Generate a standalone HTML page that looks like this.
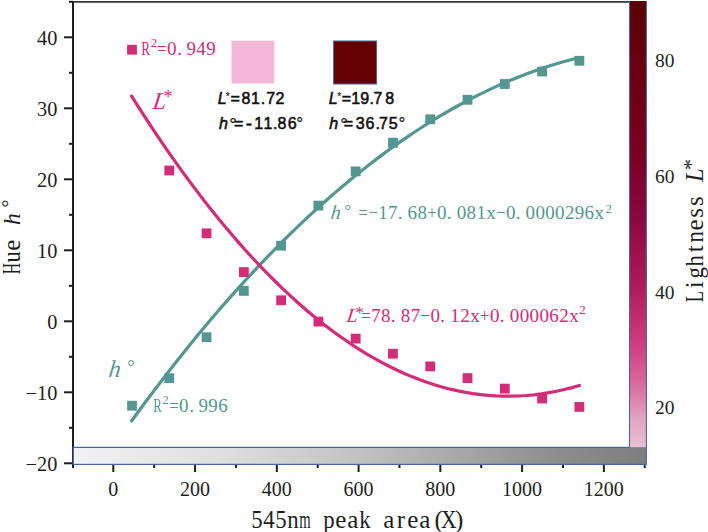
<!DOCTYPE html>
<html><head><meta charset="utf-8"><style>
html,body{margin:0;padding:0;background:#fff;}
body{width:708px;height:532px;overflow:hidden;position:relative;}
svg{position:absolute;left:0;top:0;display:block;}
</style></head><body>
<svg width="708" height="532" viewBox="0 0 708 532">
<defs>
<linearGradient id="gb" gradientUnits="userSpaceOnUse" x1="73.3" y1="0" x2="646.3" y2="0"><stop offset="0.0000" stop-color="#f2f2f4"/><stop offset="0.2560" stop-color="#dfdfdf"/><stop offset="0.5003" stop-color="#c2c2c2"/><stop offset="0.7098" stop-color="#a2a2a2"/><stop offset="0.8494" stop-color="#8c8c8c"/><stop offset="1.0000" stop-color="#7e7e7e"/></linearGradient>
<linearGradient id="cb" gradientUnits="userSpaceOnUse" x1="0" y1="1" x2="0" y2="447.4"><stop offset="0.0000" stop-color="#5a0002"/><stop offset="0.1322" stop-color="#66000e"/><stop offset="0.3338" stop-color="#780020"/><stop offset="0.4906" stop-color="#8c0840"/><stop offset="0.6474" stop-color="#b01c5c"/><stop offset="0.7594" stop-color="#cf3a7c"/><stop offset="0.8490" stop-color="#d9649a"/><stop offset="0.9386" stop-color="#e2a6c2"/><stop offset="1.0000" stop-color="#e9c0d3"/></linearGradient>
</defs>
<g stroke="#1e1e1e" stroke-width="2" fill="none">
<path d="M72,1.9 H630" stroke="#383838" stroke-width="1.7"/>
<path d="M73,1 V468"/>
<path d="M64,463.30 H73"/>
<path d="M64,392.30 H73"/>
<path d="M64,321.30 H73"/>
<path d="M64,250.30 H73"/>
<path d="M64,179.30 H73"/>
<path d="M64,108.30 H73"/>
<path d="M64,37.30 H73"/>
<path d="M69,427.80 H73"/>
<path d="M69,356.80 H73"/>
<path d="M69,285.80 H73"/>
<path d="M69,214.80 H73"/>
<path d="M69,143.80 H73"/>
<path d="M69,72.80 H73"/>
<path d="M69,1.80 H73"/>
<path d="M113.30,464 V472"/>
<path d="M195.06,464 V472"/>
<path d="M276.82,464 V472"/>
<path d="M358.58,464 V472"/>
<path d="M440.34,464 V472"/>
<path d="M522.10,464 V472"/>
<path d="M603.86,464 V472"/>
<path d="M154.18,464 V468"/>
<path d="M235.94,464 V468"/>
<path d="M317.70,464 V468"/>
<path d="M399.46,464 V468"/>
<path d="M481.22,464 V468"/>
<path d="M562.98,464 V468"/>
<path d="M644.74,464 V468"/>
</g>
<rect x="73.3" y="447.4" width="573" height="17" fill="url(#gb)" stroke="#4a64a4" stroke-width="1.2"/>
<rect x="629.5" y="1" width="16.9" height="446.4" fill="url(#cb)"/>
<path d="M629.5,1 V447.4 M646.4,1 V447.4" stroke="#4a64a4" stroke-width="1.1" fill="none"/>
<rect x="231.5" y="40.7" width="42.8" height="42.8" fill="#f5b7d7"/>
<rect x="333.6" y="41" width="43" height="43" fill="#640000" stroke="#4a64a4" stroke-width="1"/>
<path d="M131.60,420.94 L139.19,410.54 L146.78,400.28 L154.37,390.17 L161.96,380.20 L169.55,370.38 L177.14,360.71 L184.73,351.18 L192.32,341.80 L199.91,332.57 L207.50,323.48 L215.09,314.54 L222.68,305.75 L230.27,297.10 L237.86,288.60 L245.45,280.25 L253.04,272.04 L260.63,263.97 L268.22,256.06 L275.81,248.29 L283.40,240.67 L290.99,233.19 L298.58,225.86 L306.17,218.68 L313.76,211.64 L321.35,204.75 L328.94,198.00 L336.53,191.40 L344.12,184.95 L351.71,178.65 L359.29,172.49 L366.88,166.47 L374.47,160.61 L382.06,154.89 L389.65,149.31 L397.24,143.89 L404.83,138.61 L412.42,133.47 L420.01,128.48 L427.60,123.64 L435.19,118.95 L442.78,114.40 L450.37,110.00 L457.96,105.74 L465.55,101.63 L473.14,97.67 L480.73,93.85 L488.32,90.18 L495.91,86.66 L503.50,83.28 L511.09,80.05 L518.68,76.96 L526.27,74.02 L533.86,71.23 L541.45,68.59 L549.04,66.09 L556.63,63.73 L564.22,61.53 L571.81,59.47 L579.40,57.55" stroke="#549791" stroke-width="3.2" fill="none" stroke-linecap="round"/>
<path d="M131.60,96.11 L139.19,108.09 L146.78,119.83 L154.37,131.32 L161.96,142.57 L169.55,153.57 L177.14,164.33 L184.73,174.85 L192.32,185.12 L199.91,195.15 L207.50,204.93 L215.09,214.47 L222.68,223.77 L230.27,232.82 L237.86,241.63 L245.45,250.19 L253.04,258.51 L260.63,266.58 L268.22,274.42 L275.81,282.00 L283.40,289.35 L290.99,296.45 L298.58,303.30 L306.17,309.92 L313.76,316.28 L321.35,322.41 L328.94,328.29 L336.53,333.92 L344.12,339.31 L351.71,344.46 L359.29,349.37 L366.88,354.03 L374.47,358.44 L382.06,362.61 L389.65,366.54 L397.24,370.23 L404.83,373.67 L412.42,376.86 L420.01,379.81 L427.60,382.52 L435.19,384.98 L442.78,387.20 L450.37,389.18 L457.96,390.91 L465.55,392.40 L473.14,393.64 L480.73,394.64 L488.32,395.40 L495.91,395.91 L503.50,396.18 L511.09,396.20 L518.68,395.98 L526.27,395.52 L533.86,394.81 L541.45,393.86 L549.04,392.66 L556.63,391.22 L564.22,389.54 L571.81,387.61 L579.40,385.44" stroke="#d42c78" stroke-width="3.2" fill="none" stroke-linecap="round"/>
<rect x="127.10" y="400.80" width="9.8" height="9.8" fill="#549791"/>
<rect x="164.38" y="373.30" width="9.8" height="9.8" fill="#549791"/>
<rect x="201.66" y="332.30" width="9.8" height="9.8" fill="#549791"/>
<rect x="238.94" y="286.00" width="9.8" height="9.8" fill="#549791"/>
<rect x="276.22" y="240.80" width="9.8" height="9.8" fill="#549791"/>
<rect x="313.50" y="200.70" width="9.8" height="9.8" fill="#549791"/>
<rect x="350.78" y="166.50" width="9.8" height="9.8" fill="#549791"/>
<rect x="388.06" y="137.80" width="9.8" height="9.8" fill="#549791"/>
<rect x="425.34" y="114.40" width="9.8" height="9.8" fill="#549791"/>
<rect x="462.62" y="94.90" width="9.8" height="9.8" fill="#549791"/>
<rect x="499.90" y="79.10" width="9.8" height="9.8" fill="#549791"/>
<rect x="537.18" y="66.60" width="9.8" height="9.8" fill="#549791"/>
<rect x="574.46" y="55.90" width="9.8" height="9.8" fill="#549791"/>
<rect x="127.10" y="44.80" width="9.8" height="9.8" fill="#d42c78"/>
<rect x="164.38" y="165.60" width="9.8" height="9.8" fill="#d42c78"/>
<rect x="201.66" y="228.40" width="9.8" height="9.8" fill="#d42c78"/>
<rect x="238.94" y="267.20" width="9.8" height="9.8" fill="#d42c78"/>
<rect x="276.22" y="295.40" width="9.8" height="9.8" fill="#d42c78"/>
<rect x="313.50" y="316.70" width="9.8" height="9.8" fill="#d42c78"/>
<rect x="350.78" y="333.70" width="9.8" height="9.8" fill="#d42c78"/>
<rect x="388.06" y="348.80" width="9.8" height="9.8" fill="#d42c78"/>
<rect x="425.34" y="361.50" width="9.8" height="9.8" fill="#d42c78"/>
<rect x="462.62" y="373.20" width="9.8" height="9.8" fill="#d42c78"/>
<rect x="499.90" y="383.70" width="9.8" height="9.8" fill="#d42c78"/>
<rect x="537.18" y="393.60" width="9.8" height="9.8" fill="#d42c78"/>
<rect x="574.46" y="402.00" width="9.8" height="9.8" fill="#d42c78"/>
<text x="57.3" y="471.20" text-anchor="end" font-family="Liberation Serif" fill="#1e1e1e" font-size="20.3">−20</text>
<text x="57.3" y="400.20" text-anchor="end" font-family="Liberation Serif" fill="#1e1e1e" font-size="20.3">−10</text>
<text x="57.3" y="329.20" text-anchor="end" font-family="Liberation Serif" fill="#1e1e1e" font-size="20.3">0</text>
<text x="57.3" y="258.20" text-anchor="end" font-family="Liberation Serif" fill="#1e1e1e" font-size="20.3">10</text>
<text x="57.3" y="187.20" text-anchor="end" font-family="Liberation Serif" fill="#1e1e1e" font-size="20.3">20</text>
<text x="57.3" y="116.20" text-anchor="end" font-family="Liberation Serif" fill="#1e1e1e" font-size="20.3">30</text>
<text x="57.3" y="45.20" text-anchor="end" font-family="Liberation Serif" fill="#1e1e1e" font-size="20.3">40</text>
<text x="113.30" y="495.7" text-anchor="middle" font-family="Liberation Serif" fill="#1e1e1e" font-size="20">0</text>
<text x="195.06" y="495.7" text-anchor="middle" font-family="Liberation Serif" fill="#1e1e1e" font-size="20">200</text>
<text x="276.82" y="495.7" text-anchor="middle" font-family="Liberation Serif" fill="#1e1e1e" font-size="20">400</text>
<text x="358.58" y="495.7" text-anchor="middle" font-family="Liberation Serif" fill="#1e1e1e" font-size="20">600</text>
<text x="440.34" y="495.7" text-anchor="middle" font-family="Liberation Serif" fill="#1e1e1e" font-size="20">800</text>
<text x="522.10" y="495.7" text-anchor="middle" font-family="Liberation Serif" fill="#1e1e1e" font-size="20">1000</text>
<text x="603.86" y="495.7" text-anchor="middle" font-family="Liberation Serif" fill="#1e1e1e" font-size="20">1200</text>
<text x="655" y="67.10" font-family="Liberation Serif" fill="#1e1e1e" font-size="19.5">80</text>
<text x="655" y="183.10" font-family="Liberation Serif" fill="#1e1e1e" font-size="19.5">60</text>
<text x="655" y="299.10" font-family="Liberation Serif" fill="#1e1e1e" font-size="19.5">40</text>
<text x="655" y="413.60" font-family="Liberation Serif" fill="#1e1e1e" font-size="19.5">20</text>
<text x="340.90 352.90 388.90 400.90 412.90 424.90 438.70 459.10" y="527.6" font-size="25" fill="#1e1e1e" text-anchor="middle" font-family="Liberation Serif" >eaarea()</text>
<text x="251.20" y="527.6" font-size="25" fill="#1e1e1e" font-family="Liberation Serif" textLength="11.40" lengthAdjust="spacingAndGlyphs" >5</text>
<text x="263.20" y="527.6" font-size="25" fill="#1e1e1e" font-family="Liberation Serif" textLength="11.40" lengthAdjust="spacingAndGlyphs" >4</text>
<text x="275.20" y="527.6" font-size="25" fill="#1e1e1e" font-family="Liberation Serif" textLength="11.40" lengthAdjust="spacingAndGlyphs" >5</text>
<text x="287.20" y="527.6" font-size="25" fill="#1e1e1e" font-family="Liberation Serif" textLength="11.40" lengthAdjust="spacingAndGlyphs" >n</text>
<text x="299.20" y="527.6" font-size="25" fill="#1e1e1e" font-family="Liberation Serif" textLength="11.40" lengthAdjust="spacingAndGlyphs" >m</text>
<text x="323.20" y="527.6" font-size="25" fill="#1e1e1e" font-family="Liberation Serif" textLength="11.40" lengthAdjust="spacingAndGlyphs" >p</text>
<text x="359.20" y="527.6" font-size="25" fill="#1e1e1e" font-family="Liberation Serif" textLength="11.40" lengthAdjust="spacingAndGlyphs" >k</text>
<text x="441.10" y="527.6" font-size="25" fill="#1e1e1e" font-family="Liberation Serif" textLength="15.60" lengthAdjust="spacingAndGlyphs" >X</text>
<g transform="translate(19.8,0) rotate(-90)">
<text x="-245.10" y="0" font-size="25" fill="#1e1e1e" text-anchor="middle" font-family="Liberation Serif" >e</text>
<text x="-274.31" y="0" font-size="25" fill="#1e1e1e" font-family="Liberation Serif" textLength="11.21" lengthAdjust="spacingAndGlyphs" >H</text>
<text x="-262.51" y="0" font-size="25" fill="#1e1e1e" font-family="Liberation Serif" textLength="11.21" lengthAdjust="spacingAndGlyphs" >u</text>
<text x="-225" y="0" font-family="Liberation Serif" font-style="italic" font-size="23.5" fill="#1e1e1e">h</text>
<text x="-207.6" y="-3.5" font-family="Liberation Serif" font-size="20" fill="#1e1e1e">°</text>
</g>
<g transform="translate(703,0) rotate(-90)">
<text x="-284.68 -248.83 -224.93 -212.98 -201.03" y="0" font-size="25" fill="#1e1e1e" text-anchor="middle" font-family="Liberation Serif" >itess</text>
<text x="-302.30" y="0" font-size="25" fill="#1e1e1e" font-family="Liberation Serif" textLength="11.35" lengthAdjust="spacingAndGlyphs" >L</text>
<text x="-278.40" y="0" font-size="25" fill="#1e1e1e" font-family="Liberation Serif" textLength="11.35" lengthAdjust="spacingAndGlyphs" >g</text>
<text x="-266.45" y="0" font-size="25" fill="#1e1e1e" font-family="Liberation Serif" textLength="11.35" lengthAdjust="spacingAndGlyphs" >h</text>
<text x="-242.55" y="0" font-size="25" fill="#1e1e1e" font-family="Liberation Serif" textLength="11.35" lengthAdjust="spacingAndGlyphs" >n</text>
<text x="-182" y="0" font-family="Liberation Serif" font-style="italic" font-size="24.5" fill="#1e1e1e">L</text>
<text x="-170" y="-5.5" font-family="Liberation Serif" font-size="22" fill="#1e1e1e">*</text>
</g>
<text x="141.2" y="55.4" font-family="Liberation Serif" font-size="19" fill="#d42c78" textLength="8.8" lengthAdjust="spacingAndGlyphs">R</text>
<text x="150.8" y="47" font-family="Liberation Serif" font-size="13" fill="#d42c78">2</text>
<text x="171.70 179.50 191.30 201.10 210.90" y="54.8" font-size="19" fill="#d42c78" text-anchor="middle" font-family="Liberation Serif" >0.949</text>
<text x="157.25" y="54.8" font-size="19" fill="#d42c78" font-family="Liberation Serif" textLength="9.31" lengthAdjust="spacingAndGlyphs" >=</text>
<text transform="translate(152,108.6) skewX(-8)" font-family="Liberation Serif" font-style="italic" font-size="24" fill="#d42c78">L</text>
<text x="163.6" y="103.2" font-family="Liberation Serif" font-size="18.5" fill="#d42c78">*</text>
<text transform="translate(107.9,377) skewX(-7)" font-family="Liberation Serif" font-style="italic" font-size="24" fill="#549791">h</text>
<text x="127.2" y="373" font-family="Liberation Serif" font-size="18.5" fill="#549791">°</text>
<text x="153.3" y="411.7" font-family="Liberation Serif" font-size="19" fill="#549791" textLength="8.4" lengthAdjust="spacingAndGlyphs">R</text>
<text x="162.6" y="403.9" font-family="Liberation Serif" font-size="12.5" fill="#549791">2</text>
<text x="183.70 191.70 203.30 213.10 222.90" y="411.7" font-size="19" fill="#549791" text-anchor="middle" font-family="Liberation Serif" >0.996</text>
<text x="169.25" y="411.7" font-size="19" fill="#549791" font-family="Liberation Serif" textLength="9.31" lengthAdjust="spacingAndGlyphs" >=</text>
<text transform="translate(330.3,219.1) skewX(-6)" font-family="Liberation Serif" font-style="italic" font-size="20" fill="#549791">h</text>
<text x="344.2" y="216.3" font-family="Liberation Serif" font-size="17" fill="#549791">°</text>
<text x="382.88 392.71 400.04 412.37 422.19 441.86 449.19 461.51 471.35 481.18 491.00 510.67 518.00 530.33 540.15 549.99 559.82 569.64 579.48 589.31 599.13" y="219.2" font-size="19" fill="#549791" text-anchor="middle" font-family="Liberation Serif" >17.680.081x0.0000296x</text>
<text x="358.55" y="219.2" font-size="19" fill="#549791" font-family="Liberation Serif" textLength="9.34" lengthAdjust="spacingAndGlyphs" >=</text>
<text x="368.38" y="219.2" font-size="19" fill="#549791" font-family="Liberation Serif" textLength="9.34" lengthAdjust="spacingAndGlyphs" >−</text>
<text x="427.36" y="219.2" font-size="19" fill="#549791" font-family="Liberation Serif" textLength="9.34" lengthAdjust="spacingAndGlyphs" >+</text>
<text x="496.17" y="219.2" font-size="19" fill="#549791" font-family="Liberation Serif" textLength="9.34" lengthAdjust="spacingAndGlyphs" >−</text>
<text x="605.5" y="212.5" font-family="Liberation Serif" font-size="13" fill="#549791">2</text>
<text transform="translate(346,322.2) skewX(-8)" font-family="Liberation Serif" font-style="italic" font-size="20" fill="#d42c78">L</text>
<text x="355.2" y="317.6" font-family="Liberation Serif" font-size="17.5" fill="#d42c78">*</text>
<text x="375.90 385.80 393.20 405.60 415.50 435.30 442.70 455.10 465.00 474.90 494.70 502.10 514.50 524.40 534.30 544.20 554.10 564.00 573.90" y="321.7" font-size="19" fill="#d42c78" text-anchor="middle" font-family="Liberation Serif" >78.870.12x0.000062x</text>
<text x="361.30" y="321.7" font-size="19" fill="#d42c78" font-family="Liberation Serif" textLength="9.40" lengthAdjust="spacingAndGlyphs" >=</text>
<text x="420.70" y="321.7" font-size="19" fill="#d42c78" font-family="Liberation Serif" textLength="9.40" lengthAdjust="spacingAndGlyphs" >−</text>
<text x="480.10" y="321.7" font-size="19" fill="#d42c78" font-family="Liberation Serif" textLength="9.40" lengthAdjust="spacingAndGlyphs" >+</text>
<text x="579.2" y="314.3" font-family="Liberation Serif" font-size="13" fill="#d42c78">2</text>
<text x="222.20" y="104.10" font-size="16" font-family="Liberation Sans" fill="#111" stroke="#111" text-anchor="middle" font-style="italic" stroke-width="0.55">L</text>
<text x="227.60" y="99.60" font-size="10" font-family="Liberation Sans" fill="#111" stroke="#111" text-anchor="middle" stroke-width="0.15">*</text>
<text x="235.20" y="104.10" font-size="16" font-family="Liberation Sans" fill="#111" stroke="#111" text-anchor="middle" stroke-width="0.55">=</text>
<text x="246.00" y="104.10" font-size="16" font-family="Liberation Sans" fill="#111" stroke="#111" text-anchor="middle" stroke-width="0.55">8</text>
<text x="255.50" y="104.10" font-size="16" font-family="Liberation Sans" fill="#111" stroke="#111" text-anchor="middle" stroke-width="0.55">1</text>
<text x="262.90" y="104.10" font-size="16" font-family="Liberation Sans" fill="#111" stroke="#111" text-anchor="middle" stroke-width="0.55">.</text>
<text x="270.80" y="104.10" font-size="16" font-family="Liberation Sans" fill="#111" stroke="#111" text-anchor="middle" stroke-width="0.55">7</text>
<text x="280.00" y="104.10" font-size="16" font-family="Liberation Sans" fill="#111" stroke="#111" text-anchor="middle" stroke-width="0.55">2</text>
<text x="223.40" y="129.40" font-size="16" font-family="Liberation Sans" fill="#111" stroke="#111" text-anchor="middle" font-style="italic" stroke-width="0.55">h</text>
<text x="233.10" y="130.60" font-size="19" font-family="Liberation Sans" fill="#111" stroke="#111" text-anchor="middle" stroke-width="0.15">°</text>
<text x="238.60" y="129.40" font-size="16" font-family="Liberation Sans" fill="#111" stroke="#111" text-anchor="middle" stroke-width="0.55">=</text>
<text x="248.90" y="130.20" font-size="19" font-family="Liberation Sans" fill="#111" stroke="#111" text-anchor="middle" stroke-width="0.55">-</text>
<text x="258.70" y="129.40" font-size="16" font-family="Liberation Sans" fill="#111" stroke="#111" text-anchor="middle" stroke-width="0.55">1</text>
<text x="268.00" y="129.40" font-size="16" font-family="Liberation Sans" fill="#111" stroke="#111" text-anchor="middle" stroke-width="0.55">1</text>
<text x="275.30" y="129.40" font-size="16" font-family="Liberation Sans" fill="#111" stroke="#111" text-anchor="middle" stroke-width="0.55">.</text>
<text x="281.90" y="129.40" font-size="16" font-family="Liberation Sans" fill="#111" stroke="#111" text-anchor="middle" stroke-width="0.55">8</text>
<text x="292.20" y="129.40" font-size="16" font-family="Liberation Sans" fill="#111" stroke="#111" text-anchor="middle" stroke-width="0.55">6</text>
<text x="299.70" y="129.40" font-size="17" font-family="Liberation Sans" fill="#111" stroke="#111" text-anchor="middle" stroke-width="0.15">°</text>
<text x="333.30" y="104.00" font-size="16" font-family="Liberation Sans" fill="#111" stroke="#111" text-anchor="middle" font-style="italic" stroke-width="0.55">L</text>
<text x="339.30" y="99.50" font-size="10" font-family="Liberation Sans" fill="#111" stroke="#111" text-anchor="middle" stroke-width="0.15">*</text>
<text x="346.40" y="104.00" font-size="16" font-family="Liberation Sans" fill="#111" stroke="#111" text-anchor="middle" stroke-width="0.55">=</text>
<text x="355.80" y="104.00" font-size="16" font-family="Liberation Sans" fill="#111" stroke="#111" text-anchor="middle" stroke-width="0.55">1</text>
<text x="364.80" y="104.00" font-size="16" font-family="Liberation Sans" fill="#111" stroke="#111" text-anchor="middle" stroke-width="0.55">9</text>
<text x="371.80" y="104.00" font-size="16" font-family="Liberation Sans" fill="#111" stroke="#111" text-anchor="middle" stroke-width="0.55">.</text>
<text x="377.90" y="104.00" font-size="16" font-family="Liberation Sans" fill="#111" stroke="#111" text-anchor="middle" stroke-width="0.55">7</text>
<text x="389.60" y="104.00" font-size="16" font-family="Liberation Sans" fill="#111" stroke="#111" text-anchor="middle" stroke-width="0.55">8</text>
<text x="333.70" y="129.40" font-size="16" font-family="Liberation Sans" fill="#111" stroke="#111" text-anchor="middle" font-style="italic" stroke-width="0.55">h</text>
<text x="344.00" y="130.60" font-size="19" font-family="Liberation Sans" fill="#111" stroke="#111" text-anchor="middle" stroke-width="0.15">°</text>
<text x="348.30" y="129.40" font-size="16" font-family="Liberation Sans" fill="#111" stroke="#111" text-anchor="middle" stroke-width="0.55">=</text>
<text x="360.20" y="129.40" font-size="16" font-family="Liberation Sans" fill="#111" stroke="#111" text-anchor="middle" stroke-width="0.55">3</text>
<text x="370.00" y="129.40" font-size="16" font-family="Liberation Sans" fill="#111" stroke="#111" text-anchor="middle" stroke-width="0.55">6</text>
<text x="377.70" y="129.40" font-size="16" font-family="Liberation Sans" fill="#111" stroke="#111" text-anchor="middle" stroke-width="0.55">.</text>
<text x="383.40" y="129.40" font-size="16" font-family="Liberation Sans" fill="#111" stroke="#111" text-anchor="middle" stroke-width="0.55">7</text>
<text x="393.20" y="129.40" font-size="16" font-family="Liberation Sans" fill="#111" stroke="#111" text-anchor="middle" stroke-width="0.55">5</text>
<text x="401.90" y="129.40" font-size="17" font-family="Liberation Sans" fill="#111" stroke="#111" text-anchor="middle" stroke-width="0.15">°</text>
</svg>
</body></html>
